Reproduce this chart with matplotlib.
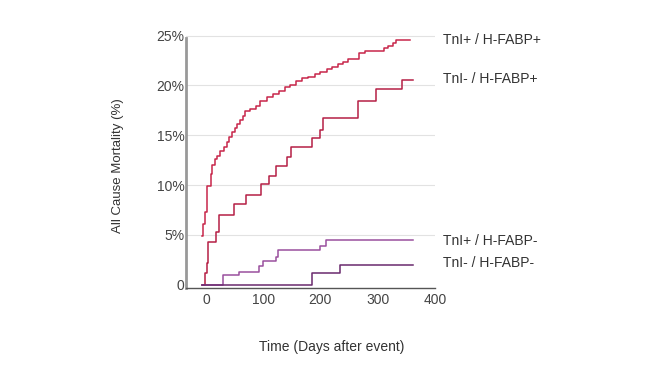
import numpy as np
import matplotlib.pyplot as plt

plt.rcParams['font.family'] = ['Liberation Sans', 'DejaVu Sans']

# Kaplan-Meier style step curves (days, cumulative mortality %)
days_pp = [-7, -5, -1, 1, 8, 11, 16, 19, 24, 32, 36, 41, 45, 50, 55, 59, 64, 68, 77, 87,
           94, 107, 118, 128, 138, 147, 158, 167, 179, 190, 199, 211, 221, 231, 240,
           249, 268, 278, 311, 319, 327, 333, 357]
mort_pp = [4.9, 6.1, 7.3, 9.9, 11.1, 12.0, 12.6, 12.9, 13.4, 13.8, 14.3, 14.8, 15.3,
           15.7, 16.1, 16.5, 16.9, 17.4, 17.6, 17.9, 18.4, 18.8, 19.1, 19.4, 19.8,
           20.0, 20.4, 20.7, 20.9, 21.2, 21.4, 21.7, 21.9, 22.2, 22.4, 22.7, 23.3,
           23.5, 23.8, 24.0, 24.3, 24.6, 24.6]

days_mp = [-7, -2, 1, 4, 18, 23, 49, 70, 96, 111, 122, 142, 149, 185, 199, 204, 266,
           298, 343, 362]
mort_mp = [0.0, 1.2, 2.2, 4.3, 5.3, 7.0, 8.1, 9.0, 10.1, 10.9, 11.9, 12.8, 13.8, 14.7,
           15.5, 16.7, 18.4, 19.6, 20.5, 20.5]

days_pm = [-7, 29, 58, 93, 99, 122, 126, 199, 209, 362]
mort_pm = [0.0, 1.0, 1.3, 1.9, 2.4, 2.8, 3.5, 3.9, 4.5, 4.5]

days_mm = [-7, 185, 235, 362]
mort_mm = [0.0, 1.2, 2.0, 2.0]

labels = ['TnI+ / H-FABP+', 'TnI- / H-FABP+', 'TnI+ / H-FABP-', 'TnI- / H-FABP-']
label_y = [24.6, 20.6, 4.4, 2.2]
colors = ['#c8264a', '#b51f45', '#9a4f9e', '#6a2a6e']

fig = plt.figure(figsize=(6.48, 3.80), dpi=100)
ax = fig.add_axes([0.287, 0.243, 0.384, 0.671])

for d, m, c in zip([days_pp, days_mp, days_pm, days_mm],
                   [mort_pp, mort_mp, mort_pm, mort_mm], colors):
    ax.step(d, m, where='post', color=c, lw=1.1)

for lab, y in zip(labels, label_y):
    ax.text(415, y, lab, fontsize=10, color='#333333', va='center', ha='left',
            clip_on=False)

ax.set_xlim(-35, 400)
ax.set_ylim(-0.3, 25.3)
ax.set_xticks([0, 100, 200, 300, 400])
ax.set_yticks([0, 5, 10, 15, 20, 25])
ax.set_yticklabels(['0', '5%', '10%', '15%', '20%', '25%'])
ax.tick_params(length=0, labelsize=10, labelcolor='#444444')
ax.tick_params(axis='x', pad=4)
ax.tick_params(axis='y', pad=1)

for y in [5, 10, 15, 20, 25]:
    ax.axhline(y, color='#e2e2e2', lw=0.8, zorder=0)

for s in ['top', 'right']:
    ax.spines[s].set_visible(False)
ax.spines['left'].set_color('#999999')
ax.spines['left'].set_linewidth(2)
ax.spines['left'].set_bounds(-0.3, 24.8)
ax.spines['bottom'].set_color('#555555')
ax.spines['bottom'].set_linewidth(1)

ax.set_ylabel('All Cause Mortality (%)', fontsize=9.5, color='#333333')
ax.set_xlabel('Time (Days after event)', fontsize=10, color='#333333')
ax.yaxis.set_label_coords(-0.249, 0.477)
ax.xaxis.set_label_coords(0.586, -0.205)

fig.savefig('out.png', dpi=100)
